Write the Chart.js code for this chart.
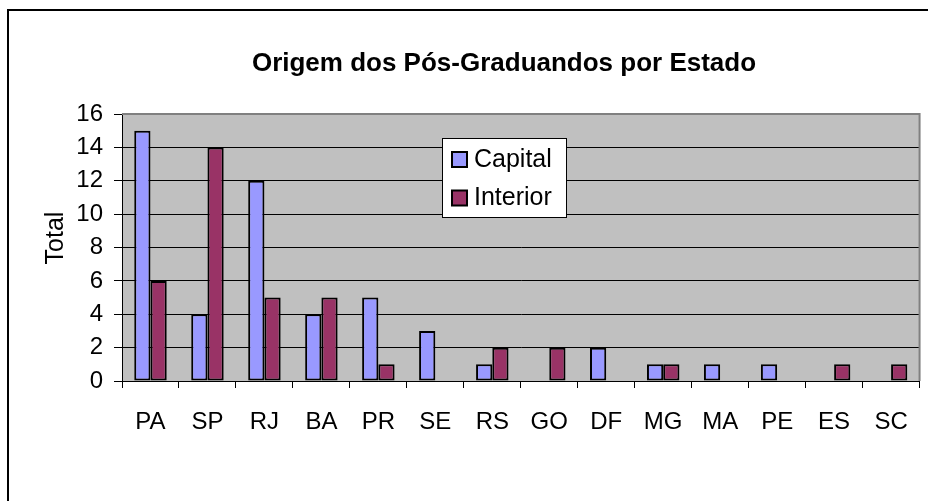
<!DOCTYPE html>
<html>
<head>
<meta charset="utf-8">
<script src="https://cdn.jsdelivr.net/npm/chart.js@4.4.1/dist/chart.umd.min.js"></script>
<style>
  html, body { margin: 0; padding: 0; background: #fff; }
  #wrap { width: 928px; height: 501px; }
</style>
</head>
<body>
<div id="wrap"><canvas id="chart"></canvas></div>
<script>
const estados = ["PA", "SP", "RJ", "BA", "PR", "SE", "RS", "GO", "DF", "MG", "MA", "PE", "ES", "SC"];
const capital = [15, 4, 12, 4, 5, 3, 1, 0, 2, 1, 1, 1, 0, 0];
const interior = [6, 14, 5, 5, 1, 0, 2, 2, 0, 1, 0, 0, 1, 1];
const yTicks = [0, 2, 4, 6, 8, 10, 12, 14, 16];

const titulo = "Origem dos Pós-Graduandos por Estado";
const eixoY = "Total";

const FONT = "Arial, 'Liberation Sans', sans-serif";

// fundo cinza da area do grafico, moldura, titulos e legenda
const excelLook = {
  id: "excelLook",
  beforeDraw(chart) {
    const { ctx, chartArea: a } = chart;
    ctx.save();
    ctx.fillStyle = "#C0C0C0";
    ctx.fillRect(a.left, a.top, a.right - a.left, a.bottom - a.top);
    ctx.restore();
  },
  afterDatasetsDraw(chart) {
    const { ctx, chartArea: a } = chart;
    ctx.save();
    // borda da area de plotagem
    ctx.strokeStyle = "#808080";
    ctx.lineWidth = 2;
    ctx.beginPath();
    ctx.moveTo(a.left, a.top);
    ctx.lineTo(a.right, a.top);
    ctx.lineTo(a.right, a.bottom);
    ctx.stroke();

    // moldura externa
    ctx.fillStyle = "#000";
    ctx.fillRect(7, 9, 2, 501);
    ctx.fillRect(7, 9, 928, 2);

    // titulo
    ctx.fillStyle = "#000";
    ctx.font = "bold 26px " + FONT;
    ctx.textAlign = "center";
    ctx.textBaseline = "alphabetic";
    ctx.fillText(titulo, 504, 71);

    // titulo do eixo Y
    ctx.save();
    ctx.translate(63, 238);
    ctx.rotate(-Math.PI / 2);
    ctx.font = "25px " + FONT;
    ctx.fillText(eixoY, 0, 0);
    ctx.restore();

    // legenda
    ctx.fillStyle = "#fff";
    ctx.fillRect(442, 138, 124, 80);
    ctx.strokeStyle = "#000";
    ctx.lineWidth = 1;
    ctx.strokeRect(442.5, 138.5, 124, 79);
    const itens = chart.data.datasets;
    itens.forEach((ds, i) => {
      const y = 151 + i * 38.5;
      ctx.fillStyle = ds.backgroundColor;
      ctx.fillRect(452, y + 1, 15, 15);
      ctx.strokeStyle = "#000";
      ctx.lineWidth = 2;
      ctx.strokeRect(452, y + 1, 15, 15);
      ctx.fillStyle = "#000";
      ctx.font = "25px " + FONT;
      ctx.textAlign = "left";
      ctx.textBaseline = "middle";
      ctx.fillText(ds.label, 474, y + 9);
    });
    ctx.restore();
  }
};

const ctx = document.getElementById("chart").getContext("2d");

new Chart(ctx, {
  type: "bar",
  data: {
    labels: estados,
    datasets: [
      {
        label: "Capital",
        data: capital,
        backgroundColor: "#9999FF",
        borderColor: "#000",
        borderWidth: 2,
        borderSkipped: false,
        categoryPercentage: 0.57,
        barPercentage: 1.0,
      },
      {
        label: "Interior",
        data: interior,
        backgroundColor: "#993366",
        borderColor: "#000",
        borderWidth: 2,
        borderSkipped: false,
        categoryPercentage: 0.57,
        barPercentage: 1.0,
      },
    ],
  },
  options: {
    responsive: true,
    maintainAspectRatio: false,
    animation: false,
    layout: {
      padding: { top: 114, right: 7, bottom: 0, left: 0 },
    },
    plugins: {
      legend: { display: false },
      tooltip: { enabled: false },
      title: { display: false },
    },
    scales: {
      x: {
        afterFit: (s) => { s.height = 120; },
        grid: {
          display: true,
          offset: true,
          drawOnChartArea: false,
          drawTicks: true,
          tickLength: 7,
          color: "#000",
        },
        border: { display: true, color: "#000", width: 1 },
        ticks: {
          padding: 20,
          font: { family: FONT, size: 24 },
          color: "#000",
        },
      },
      y: {
        min: 0,
        max: 16,
        afterFit: (s) => { s.width = 122; },
        afterBuildTicks: (s) => { s.ticks = yTicks.map((v) => ({ value: v })); },
        grid: {
          display: true,
          drawOnChartArea: true,
          drawTicks: true,
          tickLength: 8,
          color: "#000",
        },
        border: { display: true, color: "#000", width: 1 },
        ticks: {
          padding: 11,
          font: { family: FONT, size: 24 },
          color: "#000",
        },
      },
    },
  },
  plugins: [excelLook],
});
</script>
</body>
</html>
